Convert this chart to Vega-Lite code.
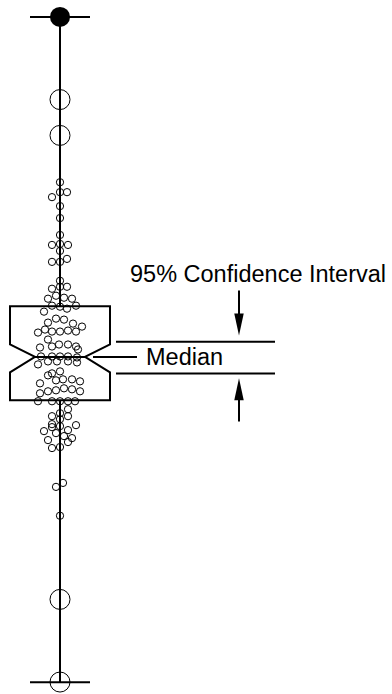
{
  "$schema": "https://vega.github.io/schema/vega-lite/v6.json",
  "width": 392,
  "height": 694,
  "autosize": {"type": "fit", "contains": "padding"},
  "padding": 0,
  "background": "white",
  "config": {"view": {"stroke": null}},
  "datasets": {
    "segments": [
      {"part": "whisker upper", "x1": 6.0, "y1": 38.63, "x2": 6.0, "y2": 67.7},
      {"part": "whisker lower", "x1": 6.0, "y1": 0.87, "x2": 6.0, "y2": 29.2},
      {"part": "cap top", "x1": 3.0, "y1": 67.7, "x2": 9.0, "y2": 67.7},
      {"part": "cap bottom", "x1": 3.0, "y1": 0.87, "x2": 9.0, "y2": 0.87},
      {"part": "median", "x1": 3.5, "y1": 33.55, "x2": 8.5, "y2": 33.55},
      {"part": "median label line", "x1": 9.3, "y1": 33.55, "x2": 13.7, "y2": 33.55},
      {"part": "ci upper", "x1": 11.6, "y1": 35.07, "x2": 27.5, "y2": 35.07},
      {"part": "ci lower", "x1": 11.6, "y1": 31.9, "x2": 27.5, "y2": 31.9},
      {"part": "arrow down shaft", "x1": 23.9, "y1": 40.23, "x2": 23.9, "y2": 37.6},
      {"part": "arrow up shaft", "x1": 23.9, "y1": 29.3, "x2": 23.9, "y2": 27.07}
    ],
    "box": [
      {"ord": 0, "jitter": 1.0, "value": 38.63},
      {"ord": 1, "jitter": 11.0, "value": 38.63},
      {"ord": 2, "jitter": 11.0, "value": 34.8},
      {"ord": 3, "jitter": 8.5, "value": 33.55},
      {"ord": 4, "jitter": 11.0, "value": 32.0},
      {"ord": 5, "jitter": 11.0, "value": 29.2},
      {"ord": 6, "jitter": 1.0, "value": 29.2},
      {"ord": 7, "jitter": 1.0, "value": 32.0},
      {"ord": 8, "jitter": 3.5, "value": 33.55},
      {"ord": 9, "jitter": 1.0, "value": 34.8},
      {"ord": 10, "jitter": 1.0, "value": 38.63}
    ],
    "obs": [
      {"jitter": 6.0, "value": 51.1}, {"jitter": 6.0, "value": 50.1}, {"jitter": 5.2, "value": 49.6}, {"jitter": 6.7, "value": 50.1},
      {"jitter": 6.0, "value": 48.7}, {"jitter": 6.0, "value": 47.5}, {"jitter": 6.0, "value": 45.8},
      {"jitter": 5.2, "value": 44.8}, {"jitter": 6.0, "value": 44.9}, {"jitter": 6.8, "value": 44.8}, {"jitter": 6.0, "value": 44.2},
      {"jitter": 5.2, "value": 43.1}, {"jitter": 6.0, "value": 43.1}, {"jitter": 6.7, "value": 43.4},
      {"jitter": 6.0, "value": 41.2}, {"jitter": 5.2, "value": 40.4}, {"jitter": 6.0, "value": 40.6}, {"jitter": 6.7, "value": 40.6},
      {"jitter": 5.6, "value": 39.7}, {"jitter": 4.8, "value": 39.4}, {"jitter": 6.4, "value": 39.5}, {"jitter": 7.2, "value": 39.4},
      {"jitter": 5.2, "value": 38.7}, {"jitter": 6.0, "value": 38.6}, {"jitter": 6.7, "value": 38.4}, {"jitter": 7.6, "value": 38.7}, {"jitter": 4.4, "value": 38.1},
      {"jitter": 5.6, "value": 37.4}, {"jitter": 6.4, "value": 37.3}, {"jitter": 7.3, "value": 36.9}, {"jitter": 8.2, "value": 36.6}, {"jitter": 4.8, "value": 37.0},
      {"jitter": 3.8, "value": 36.0}, {"jitter": 4.5, "value": 36.3}, {"jitter": 5.2, "value": 36.1}, {"jitter": 6.0, "value": 36.1}, {"jitter": 6.8, "value": 36.2}, {"jitter": 7.6, "value": 36.1},
      {"jitter": 4.8, "value": 35.3}, {"jitter": 4.0, "value": 34.5}, {"jitter": 5.2, "value": 34.6}, {"jitter": 5.9, "value": 34.8}, {"jitter": 6.8, "value": 34.8}, {"jitter": 7.6, "value": 34.6}, {"jitter": 7.8, "value": 34.3},
      {"jitter": 4.1, "value": 33.6}, {"jitter": 5.2, "value": 33.6}, {"jitter": 6.0, "value": 33.6}, {"jitter": 6.8, "value": 33.6}, {"jitter": 7.7, "value": 33.5},
      {"jitter": 3.8, "value": 32.8}, {"jitter": 4.8, "value": 33.1}, {"jitter": 5.7, "value": 33.1}, {"jitter": 6.8, "value": 33.1}, {"jitter": 7.7, "value": 33.0},
      {"jitter": 5.2, "value": 31.9}, {"jitter": 4.8, "value": 31.7}, {"jitter": 6.0, "value": 32.1},
      {"jitter": 4.0, "value": 30.9}, {"jitter": 5.6, "value": 31.2}, {"jitter": 6.3, "value": 31.3}, {"jitter": 7.2, "value": 31.3}, {"jitter": 8.0, "value": 31.1},
      {"jitter": 4.0, "value": 29.9}, {"jitter": 4.8, "value": 30.1}, {"jitter": 5.6, "value": 30.2}, {"jitter": 6.4, "value": 30.4}, {"jitter": 7.2, "value": 30.3}, {"jitter": 8.0, "value": 30.1},
      {"jitter": 3.8, "value": 29.1}, {"jitter": 5.2, "value": 29.1}, {"jitter": 6.0, "value": 29.1}, {"jitter": 6.8, "value": 29.1}, {"jitter": 7.5, "value": 29.1},
      {"jitter": 6.8, "value": 28.3}, {"jitter": 5.2, "value": 27.6}, {"jitter": 6.0, "value": 27.9}, {"jitter": 6.0, "value": 27.3}, {"jitter": 6.8, "value": 27.6},
      {"jitter": 5.2, "value": 26.8}, {"jitter": 5.2, "value": 26.5}, {"jitter": 6.0, "value": 26.6}, {"jitter": 7.6, "value": 26.7},
      {"jitter": 4.4, "value": 26.1}, {"jitter": 5.6, "value": 25.9}, {"jitter": 6.8, "value": 26.2}, {"jitter": 6.4, "value": 25.6}, {"jitter": 7.2, "value": 25.4}, {"jitter": 4.8, "value": 25.2}, {"jitter": 6.8, "value": 25.0},
      {"jitter": 5.2, "value": 24.4}, {"jitter": 6.0, "value": 24.5},
      {"jitter": 6.3, "value": 20.9}, {"jitter": 5.6, "value": 20.5}, {"jitter": 6.0, "value": 17.6}
    ],
    "extremes": [
      {"jitter": 6.0, "value": 59.4},
      {"jitter": 6.0, "value": 55.8},
      {"jitter": 6.0, "value": 9.2},
      {"jitter": 6.0, "value": 0.9}
    ],
    "maxpoint": [{"jitter": 6.0, "value": 67.7}],
    "arrowdown": [{"jitter": 23.9, "value": 36.8}],
    "arrowup": [{"jitter": 23.9, "value": 30.3}],
    "labels": [
      {"label": "95% Confidence Interval", "jitter": 13.0, "value": 41.07},
      {"label": "Median", "jitter": 14.6, "value": 32.73}
    ]
  },
  "layer": [
    {
      "data": {"name": "segments"},
      "mark": {"type": "rule", "stroke": "black", "strokeWidth": 2},
      "encoding": {
        "x": {"field": "x1", "type": "quantitative", "scale": {"domain": [0, 39.2]}, "axis": null},
        "x2": {"field": "x2"},
        "y": {"field": "y1", "type": "quantitative", "scale": {"domain": [0, 69.4]}, "axis": null},
        "y2": {"field": "y2"}
      }
    },
    {
      "data": {"name": "box"},
      "mark": {"type": "line", "stroke": "black", "strokeWidth": 2, "strokeCap": "square", "strokeJoin": "miter"},
      "encoding": {
        "x": {"field": "jitter", "type": "quantitative", "scale": {"domain": [0, 39.2]}, "axis": null},
        "y": {"field": "value", "type": "quantitative", "scale": {"domain": [0, 69.4]}, "axis": null},
        "order": {"field": "ord", "type": "quantitative"}
      }
    },
    {
      "data": {"name": "obs"},
      "mark": {"type": "point", "shape": "circle", "filled": false, "stroke": "black", "strokeWidth": 1, "opacity": 1, "size": 53},
      "encoding": {
        "x": {"field": "jitter", "type": "quantitative", "scale": {"domain": [0, 39.2]}, "axis": null},
        "y": {"field": "value", "type": "quantitative", "scale": {"domain": [0, 69.4]}, "axis": null}
      }
    },
    {
      "data": {"name": "extremes"},
      "mark": {"type": "point", "shape": "circle", "filled": false, "stroke": "black", "strokeWidth": 1, "opacity": 1, "size": 400},
      "encoding": {
        "x": {"field": "jitter", "type": "quantitative", "scale": {"domain": [0, 39.2]}, "axis": null},
        "y": {"field": "value", "type": "quantitative", "scale": {"domain": [0, 69.4]}, "axis": null}
      }
    },
    {
      "data": {"name": "maxpoint"},
      "mark": {"type": "point", "shape": "circle", "filled": true, "fill": "black", "opacity": 1, "size": 400},
      "encoding": {
        "x": {"field": "jitter", "type": "quantitative", "scale": {"domain": [0, 39.2]}, "axis": null},
        "y": {"field": "value", "type": "quantitative", "scale": {"domain": [0, 69.4]}, "axis": null}
      }
    },
    {
      "data": {"name": "arrowdown"},
      "mark": {"type": "point", "shape": "M-0.43,-1L0.43,-1L0,1Z", "filled": true, "fill": "black", "strokeWidth": 0, "opacity": 1, "size": 484},
      "encoding": {
        "x": {"field": "jitter", "type": "quantitative", "scale": {"domain": [0, 39.2]}, "axis": null},
        "y": {"field": "value", "type": "quantitative", "scale": {"domain": [0, 69.4]}, "axis": null}
      }
    },
    {
      "data": {"name": "arrowup"},
      "mark": {"type": "point", "shape": "M-0.43,1L0.43,1L0,-1Z", "filled": true, "fill": "black", "strokeWidth": 0, "opacity": 1, "size": 484},
      "encoding": {
        "x": {"field": "jitter", "type": "quantitative", "scale": {"domain": [0, 39.2]}, "axis": null},
        "y": {"field": "value", "type": "quantitative", "scale": {"domain": [0, 69.4]}, "axis": null}
      }
    },
    {
      "data": {"name": "labels"},
      "mark": {"type": "text", "align": "left", "baseline": "alphabetic", "font": "Liberation Sans", "fontSize": 23.5, "color": "black"},
      "encoding": {
        "x": {"field": "jitter", "type": "quantitative", "scale": {"domain": [0, 39.2]}, "axis": null},
        "y": {"field": "value", "type": "quantitative", "scale": {"domain": [0, 69.4]}, "axis": null},
        "text": {"field": "label", "type": "nominal"}
      }
    }
  ]
}
